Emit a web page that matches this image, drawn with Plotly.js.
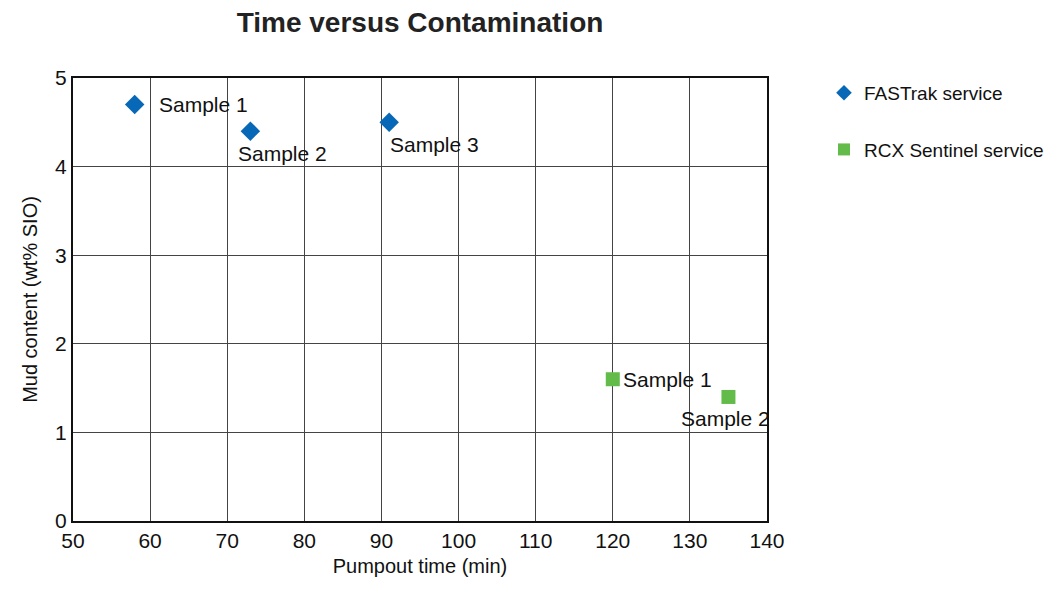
<!DOCTYPE html>
<html><head><meta charset="utf-8">
<script src="https://cdn.plot.ly/plotly-3.0.1.min.js"></script>
<style>body{margin:0;background:#fff}#chart{width:1047px;height:591px}</style>
</head><body><div id="chart"></div>
<script>
const fastX = [58, 73, 91];
const fastY = [4.7, 4.4, 4.5];
const fastLabels = ['Sample 1', 'Sample 2', 'Sample 3'];
const rcxX = [120, 135];
const rcxY = [1.6, 1.4];
const rcxLabels = ['Sample 1', 'Sample 2'];
const xTicks = [50, 60, 70, 80, 90, 100, 110, 120, 130, 140];
const yTicks = [0, 1, 2, 3, 4, 5];

const FONT = '"Liberation Sans", Arial, sans-serif';

const traces = [
  {x: fastX, y: fastY, mode: 'markers', type: 'scatter', name: 'FASTrak service', legendgroup: 'a',
   marker: {symbol: 'diamond', size: 15, color: '#0868b8'}, cliponaxis: false},
  {x: rcxX, y: rcxY, mode: 'markers', type: 'scatter', name: 'RCX Sentinel service', legendgroup: 'b',
   marker: {symbol: 'square', size: 14, color: '#63bb4a'}, cliponaxis: false}
];

// label offsets (pixels) relative to each point
const fastShift = [[22, 0], [-14, -22], [-1, -22]];
const rcxShift = [[8, 0], [-49, -22]];
const annotations = [];
fastX.forEach((x, i) => annotations.push({x: x, y: fastY[i], xref: 'x', yref: 'y', text: fastLabels[i], showarrow: false,
  xanchor: 'left', xshift: fastShift[i][0], yshift: fastShift[i][1], font: {family: FONT, size: 21, color: '#111'}}));
rcxX.forEach((x, i) => annotations.push({x: x, y: rcxY[i], xref: 'x', yref: 'y', text: rcxLabels[i], showarrow: false,
  xanchor: 'left', xshift: rcxShift[i][0], yshift: rcxShift[i][1], font: {family: FONT, size: 21, color: '#111'}}));

const layout = {
  width: 1047, height: 591,
  margin: {l: 73, r: 280, t: 78, b: 70, autoexpand: false},
  paper_bgcolor: '#fff', plot_bgcolor: '#fff',
  font: {family: FONT, color: '#111', size: 21},
  title: {text: '<b>Time versus Contamination</b>', x: 0.5, xref: 'paper', xanchor: 'center', y: 0.962, yanchor: 'middle',
          font: {family: FONT, size: 28, color: '#222'}},
  xaxis: {range: [50, 140], tickvals: xTicks, ticktext: xTicks.map(String), showgrid: true, gridcolor: '#444', gridwidth: 1,
          showline: true, linecolor: '#111', linewidth: 2, mirror: true, zeroline: false, ticks: '', ticklen: 0,
          tickfont: {size: 21}, title: {text: 'Pumpout time (min)', font: {size: 20}, standoff: 8}},
  yaxis: {range: [0, 5], tickvals: yTicks, ticktext: yTicks.map(String), showgrid: true, gridcolor: '#444', gridwidth: 1,
          showline: true, linecolor: '#111', linewidth: 2, mirror: true, zeroline: false, ticks: '', ticklen: 0,
          tickfont: {size: 21}, title: {text: 'Mud content (wt% SIO)', font: {size: 20}, standoff: 12}},
  showlegend: true,
  legend: {xref: 'container', yref: 'container', x: 0.787, xanchor: 'left', y: 0.875, yanchor: 'top',
           font: {family: FONT, size: 19, color: '#111'},
           tracegroupgap: 29, itemsizing: 'constant', bgcolor: 'rgba(0,0,0,0)'},
  annotations: annotations
};

Plotly.newPlot('chart', traces, layout, {displayModeBar: false, staticPlot: true});
</script></body></html>
